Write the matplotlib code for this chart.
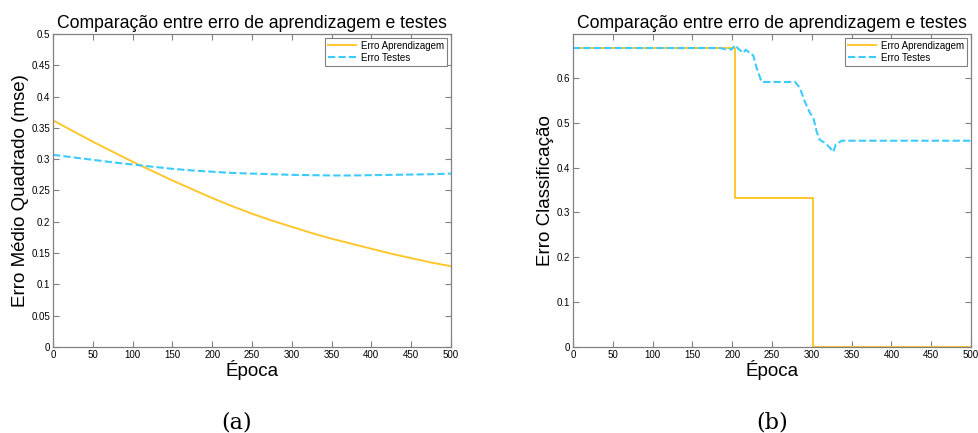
import matplotlib
matplotlib.use('Agg')
import matplotlib.pyplot as plt

plt.rcParams['font.family'] = ['Liberation Sans', 'DejaVu Sans']

# (a) erro medio quadrado
epoca_a = [0, 25, 50, 75, 100, 125, 150, 175, 200, 225, 250, 275, 300, 325, 350, 375, 400, 425, 450, 475, 500]
mse_aprend = [0.362, 0.345, 0.328, 0.312, 0.296, 0.281, 0.266, 0.252, 0.238, 0.225, 0.213, 0.202, 0.192,
              0.182, 0.173, 0.165, 0.157, 0.149, 0.142, 0.135, 0.129]
mse_testes = [0.307, 0.303, 0.299, 0.295, 0.2915, 0.288, 0.2846, 0.282, 0.280, 0.278, 0.277, 0.276, 0.275,
              0.2745, 0.274, 0.274, 0.2745, 0.275, 0.2755, 0.276, 0.277]

# (b) erro de classificacao
epoca_b_aprend = [0, 204, 301, 500]
class_aprend = [0.6667, 0.3333, 0.0, 0.0]
epoca_b_testes = [0, 185, 193, 197, 199, 203.5, 207.7, 214, 217, 222, 226.5, 230.7, 237, 279, 285, 291,
                  297.7, 302, 306, 310, 316.6, 323, 327, 330, 337.5, 500]
class_testes = [0.6667, 0.6667, 0.663, 0.665, 0.663, 0.673, 0.665, 0.656, 0.663, 0.656, 0.650, 0.622, 0.591,
                0.591, 0.578, 0.548, 0.522, 0.511, 0.481, 0.462, 0.455, 0.444, 0.435, 0.451, 0.460, 0.460]

titulo = 'Comparação entre erro de aprendizagem e testes'
amarelo = '#FFC72C'
azul = '#3CCBFF'

fig = plt.figure(figsize=(9.79, 4.33), dpi=100)
ax1 = fig.add_axes([0.0541, 0.1986, 0.4065, 0.7229])
ax2 = fig.add_axes([0.5853, 0.1986, 0.4065, 0.7229])


def estilo(ax):
    ax.set_xlim(0, 500)
    ax.set_xticks(range(0, 501, 50))
    ax.tick_params(direction='in', length=4, width=0.8, labelsize=7, top=True, right=True,
                   color='#808080', pad=2)
    for s in ax.spines.values():
        s.set_color('#808080')
        s.set_linewidth(0.9)
    ax.set_title(titulo, fontsize=12.7, pad=4)
    ax.set_xlabel('Época', fontsize=13.5, labelpad=0)
    leg = ax.legend(loc='upper right', fontsize=7, fancybox=False, framealpha=1,
                    edgecolor='#808080', handlelength=2.9, borderaxespad=0.4,
                    borderpad=0.3, labelspacing=0.2, handletextpad=0.5)
    leg.get_frame().set_linewidth(0.8)


ax1.plot(epoca_a, mse_aprend, color=amarelo, lw=1.4, label='Erro Aprendizagem')
ax1.plot(epoca_a, mse_testes, color=azul, lw=1.5, ls=(0, (3.5, 1.5)), label='Erro Testes')
ax1.set_ylim(0, 0.5)
ax1.set_yticks([i * 0.05 for i in range(11)])
ax1.set_yticklabels(['0', '0.05', '0.1', '0.15', '0.2', '0.25', '0.3', '0.35', '0.4', '0.45', '0.5'])
ax1.set_ylabel('Erro Médio Quadrado (mse)', fontsize=13.5, labelpad=2)
estilo(ax1)

ax2.plot(epoca_b_aprend, class_aprend, color=amarelo, lw=1.4, drawstyle='steps-post',
         label='Erro Aprendizagem')
ax2.plot(epoca_b_testes, class_testes, color=azul, lw=1.5, ls=(0, (3.5, 1.5)), label='Erro Testes')
ax2.set_ylim(0, 0.698)
ax2.set_yticks([0, 0.1, 0.2, 0.3, 0.4, 0.5, 0.6])
ax2.set_yticklabels(['0', '0.1', '0.2', '0.3', '0.4', '0.5', '0.6'])
ax2.set_ylabel('Erro Classificação', fontsize=13.5, labelpad=2)
estilo(ax2)

fig.text(0.242, 0.0, '(a)', fontsize=16, family='DejaVu Serif', ha='center', va='bottom')
fig.text(0.7885, 0.0, '(b)', fontsize=16, family='DejaVu Serif', ha='center', va='bottom')

fig.savefig('out.png', dpi=100)
